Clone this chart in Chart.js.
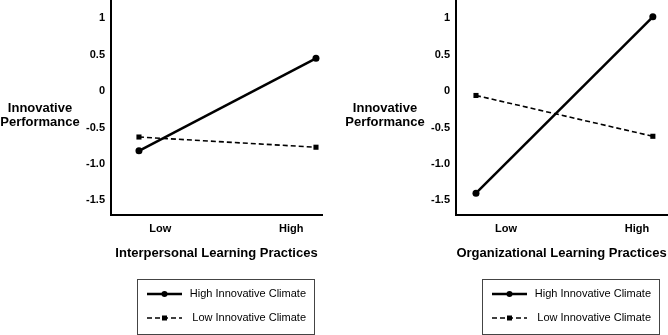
<!DOCTYPE html>
<html>
<head>
<meta charset="utf-8">
<script src="https://cdn.jsdelivr.net/npm/chart.js@4.4.0/dist/chart.umd.min.js"></script>
<style>
  html, body { margin: 0; padding: 0; background: #fff; }
  #wrap { position: relative; width: 668px; height: 335px; }
  canvas { position: absolute; top: 0; }
</style>
</head>
<body>
<div id="wrap">
  <canvas id="left" width="334" height="335" style="left:0"></canvas>
  <canvas id="right" width="334" height="335" style="left:334px"></canvas>
</div>
<script>
// Low = 0, High = 1
const levels = [0, 1];
const xTickLabels = ['Low', 'High'];
const yTicks = [-1.5, -1, -0.5, 0, 0.5, 1];
const yTickLabels = ['-1.5', '-1.0', '-0.5', '0', '0.5', '1'];
const seriesNames = ['High Innovative Climate', 'Low Innovative Climate'];

const interpersonalHigh = [-0.82, 0.45];
const interpersonalLow = [-0.63, -0.77];
const organizationalHigh = [-1.40, 1.02];
const organizationalLow = [-0.06, -0.62];

const FONT = '"Liberation Sans", Arial, Helvetica, sans-serif';

// y title drawn horizontally + boxed legend underneath the x title
const decorPlugin = {
  id: 'decor',
  afterDraw(chart) {
    const { ctx, chartArea } = chart;
    ctx.save();
    ctx.fillStyle = '#000';
    ctx.font = 'bold 13px ' + FONT;
    ctx.textAlign = 'center';
    ctx.textBaseline = 'middle';
    const cx = chartArea.left - 71;
    ctx.fillText('Innovative', cx, chartArea.top + 108);
    ctx.fillText('Performance', cx, chartArea.top + 122);

    const box = { left: chartArea.left + 26, top: chartArea.bottom + 64, w: 177, h: 55 };
    ctx.strokeStyle = '#444';
    ctx.lineWidth = 1;
    ctx.strokeRect(box.left + 0.5, box.top + 0.5, box.w, box.h);

    chart.data.datasets.forEach((ds, i) => {
      const y = box.top + 15 + i * 24;
      const x0 = box.left + 10, x1 = box.left + 45, xm = (x0 + x1) / 2;
      ctx.beginPath();
      ctx.setLineDash(ds.borderDash || []);
      ctx.lineWidth = ds.borderWidth;
      ctx.strokeStyle = ds.borderColor;
      ctx.moveTo(x0, y);
      ctx.lineTo(x1, y);
      ctx.stroke();
      ctx.setLineDash([]);
      ctx.fillStyle = '#000';
      if (ds.pointStyle === 'rect') {
        ctx.fillRect(xm - 2.5, y - 2.5, 5, 5);
      } else {
        ctx.beginPath();
        ctx.arc(xm, y, 3, 0, Math.PI * 2);
        ctx.fill();
      }
      ctx.font = '11px ' + FONT;
      ctx.textAlign = 'right';
      ctx.fillText(ds.label, box.left + box.w - 8, y);
    });
    ctx.restore();
  }
};

function makeChart(id, cfg) {
  const ctx = document.getElementById(id).getContext('2d');
  return new Chart(ctx, {
    type: 'line',
    data: {
      datasets: [{
        label: seriesNames[0],
        data: levels.map((x, i) => ({ x: x, y: cfg.high[i] })),
        borderColor: '#000',
        borderWidth: 2.5,
        pointStyle: 'circle',
        pointRadius: 3.5,
        pointBackgroundColor: '#000',
        pointBorderWidth: 0,
        clip: false
      }, {
        label: seriesNames[1],
        data: levels.map((x, i) => ({ x: x, y: cfg.low[i] })),
        borderColor: '#000',
        borderWidth: 1.6,
        borderDash: [5, 3],
        pointStyle: 'rect',
        pointRadius: 3.6,
        pointBackgroundColor: '#000',
        pointBorderWidth: 0,
        clip: false
      }]
    },
    options: {
      responsive: false,
      animation: false,
      devicePixelRatio: 1,
      layout: { autoPadding: false, padding: { left: 0, right: cfg.rightPad, top: 0, bottom: 65 } },
      plugins: { legend: { display: false }, tooltip: { enabled: false } },
      scales: {
        x: {
          type: 'linear',
          min: cfg.xMin,
          max: cfg.xMax,
          afterBuildTicks: s => { s.ticks = cfg.labelPos.map(v => ({ value: v })); },
          afterFit: s => { s.height = 55; s.paddingLeft = 0; s.paddingRight = 0; },
          ticks: {
            callback: (v, i) => xTickLabels[i],
            font: { family: FONT, size: 11, weight: 'bold' },
            color: '#000',
            padding: 7,
            maxRotation: 0,
            autoSkip: false
          },
          grid: { display: false, drawTicks: false },
          border: { color: '#000', width: 2 },
          title: {
            display: true,
            text: cfg.xTitle,
            font: { family: FONT, size: 13, weight: 'bold' },
            color: '#000',
            padding: { top: 0, bottom: 9 }
          }
        },
        y: {
          min: -1.7,
          max: 1.25,
          afterBuildTicks: s => { s.ticks = yTicks.map(v => ({ value: v })); },
          afterFit: s => { s.width = cfg.axisLeft; s.paddingTop = 0; s.paddingBottom = 0; },
          ticks: {
            callback: (v, i) => yTickLabels[i],
            font: { family: FONT, size: 11, weight: 'bold' },
            color: '#000',
            padding: 6
          },
          grid: { display: false, drawTicks: false },
          border: { color: '#000', width: 2 }
        }
      }
    },
    plugins: [decorPlugin]
  });
}

makeChart('left', {
  high: interpersonalHigh,
  low: interpersonalLow,
  xTitle: 'Interpersonal Learning Practices',
  axisLeft: 111,
  rightPad: 12,
  xMin: -0.158,
  xMax: 1.034,
  labelPos: [0.12, 0.86]
});

makeChart('right', {
  high: organizationalHigh,
  low: organizationalLow,
  xTitle: 'Organizational Learning Practices',
  axisLeft: 122,
  rightPad: 1,
  xMin: -0.113,
  xMax: 1.08,
  labelPos: [0.17, 0.91]
});
</script>
</body>
</html>
